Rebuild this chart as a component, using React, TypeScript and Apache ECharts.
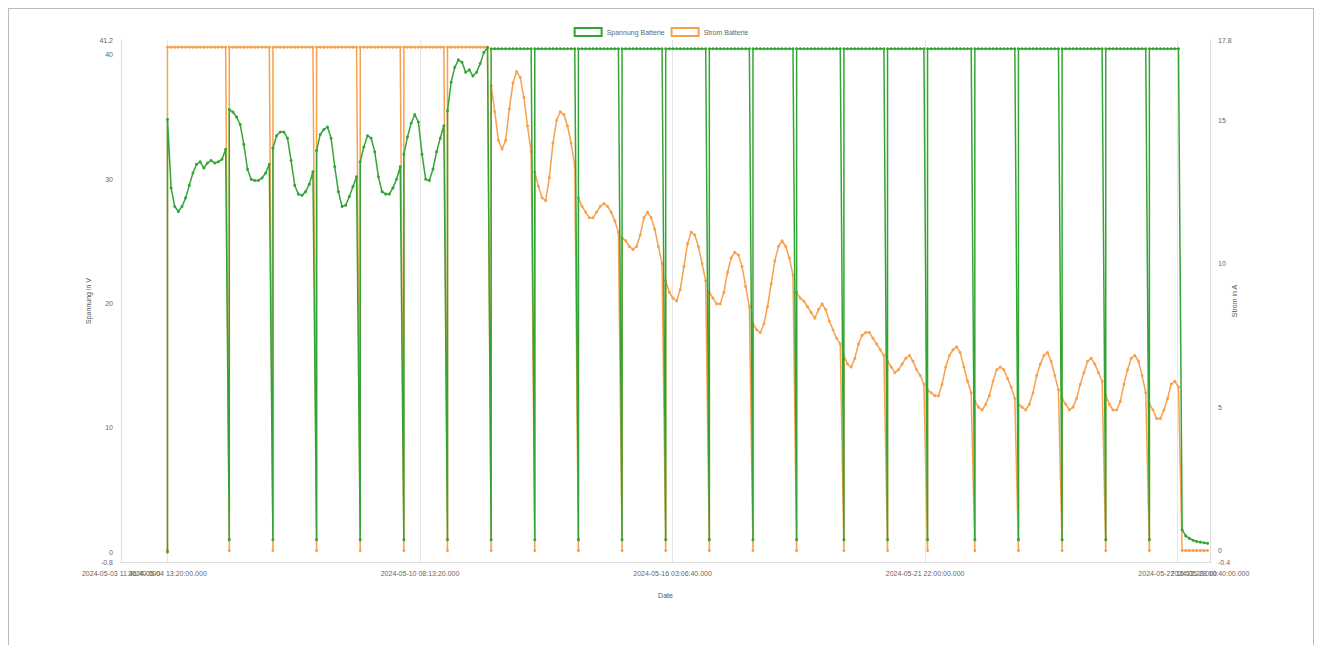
import React, { useEffect, useRef } from "react";
import * as echarts from "echarts";

// time grid of the samples (ms since epoch), 2 h apart
const startTime = 1714800000000;
const stepMs = 7200000;
const axisMinTime = 1714708000000;
const axisMaxTime = 1716864000000;
// x-axis tick / label positions (ms)
const xEdgeTicks = [1714708000000, 1716864000000];
const xInnerTicks = [1714800000000, 1715300000000, 1715800000000, 1716300000000, 1716800000000];

const seriesNames = ["Spannung Batterie", "Strom Batterie"];
const xAxisName = "Date";
const leftAxisName = "Spannung in V";
const rightAxisName = "Strom in A";

// sample indices where both signals briefly drop (daily)
const spikeIndex = [0, 17, 29, 41, 53, 65, 77, 89, 101, 113, 125, 137, 149, 161, 173, 186, 198, 209, 222, 234, 246, 258, 270];
const spikeVoltage = [0, 1, 1, 1, 1, 1, 1, 1, 1, 1, 1, 1, 1, 1, 1, 1, 1, 1, 1, 1, 1, 1, 1];
const spikeCurrent = [0, 0, 0, 0, 0, 0, 0, 0, 0, 0, 0, 0, 0, 0, 0, 0, 0, 0, 0, 0, 0, 0, 0];

// battery voltage (V), one value per sample
const voltage = [
  34.8, 29.3, 27.8, 27.4, 27.8, 28.5, 29.5, 30.5, 31.2, 31.4, 30.9, 31.3, 31.5, 31.3, 31.4, 31.6, 32.4,
  35.6, 35.4, 35.0, 34.4, 32.8, 30.8, 30.0, 29.9, 29.9, 30.1, 30.5, 31.2,
  32.5, 33.5, 33.8, 33.8, 33.3, 31.5, 29.5, 28.8, 28.7, 29.0, 29.6, 30.6,
  32.3, 33.6, 34.0, 34.2, 33.3, 31.0, 29.0, 27.8, 27.9, 28.6, 29.4, 30.2,
  31.4, 32.6, 33.5, 33.3, 32.2, 30.2, 29.0, 28.8, 28.8, 29.3, 30.0, 31.0,
  32.0, 33.4, 34.5, 35.2, 34.6, 32.0, 30.0, 29.9, 30.8, 32.2, 33.3, 34.3,
  35.5, 37.8, 39.0, 39.6, 39.4, 38.6, 38.8, 38.3, 38.6, 39.3, 40.2, 40.6,
  40.5, 40.5, 40.5, 40.5, 40.5, 40.5, 40.5, 40.5, 40.5, 40.5,
  40.5, 40.5, 40.5, 40.5, 40.5, 40.5, 40.5, 40.5, 40.5, 40.5,
  40.5, 40.5, 40.5, 40.5, 40.5, 40.5, 40.5, 40.5, 40.5, 40.5,
  40.5, 40.5, 40.5, 40.5, 40.5, 40.5, 40.5, 40.5, 40.5, 40.5,
  40.5, 40.5, 40.5, 40.5, 40.5, 40.5, 40.5, 40.5, 40.5, 40.5,
  40.5, 40.5, 40.5, 40.5, 40.5, 40.5, 40.5, 40.5, 40.5, 40.5,
  40.5, 40.5, 40.5, 40.5, 40.5, 40.5, 40.5, 40.5, 40.5, 40.5,
  40.5, 40.5, 40.5, 40.5, 40.5, 40.5, 40.5, 40.5, 40.5, 40.5,
  40.5, 40.5, 40.5, 40.5, 40.5, 40.5, 40.5, 40.5, 40.5, 40.5,
  40.5, 40.5, 40.5, 40.5, 40.5, 40.5, 40.5, 40.5, 40.5, 40.5,
  40.5, 40.5, 40.5, 40.5, 40.5, 40.5, 40.5, 40.5, 40.5, 40.5,
  40.5, 40.5, 40.5, 40.5, 40.5, 40.5, 40.5, 40.5, 40.5, 40.5,
  40.5, 40.5, 40.5, 40.5, 40.5, 40.5, 40.5, 40.5, 40.5, 40.5,
  40.5, 40.5, 40.5, 40.5, 40.5, 40.5, 40.5, 40.5, 40.5, 40.5,
  40.5, 40.5, 40.5, 40.5, 40.5, 40.5, 40.5, 40.5, 40.5, 40.5,
  40.5, 40.5, 40.5, 40.5, 40.5, 40.5, 40.5, 40.5, 40.5, 40.5,
  40.5, 40.5, 40.5, 40.5, 40.5, 40.5, 40.5, 40.5, 40.5, 40.5,
  40.5, 40.5, 40.5, 40.5, 40.5, 40.5, 40.5, 40.5, 40.5, 40.5,
  40.5, 40.5, 40.5, 40.5, 40.5, 40.5, 40.5, 40.5, 40.5, 40.5,
  1.8, 1.3, 1.1, 0.95, 0.85, 0.8, 0.75, 0.7,
];

// battery current (A), one value per sample
const current = [
  17.55, 17.55, 17.55, 17.55, 17.55, 17.55, 17.55, 17.55, 17.55, 17.55,
  17.55, 17.55, 17.55, 17.55, 17.55, 17.55, 17.55, 17.55, 17.55, 17.55,
  17.55, 17.55, 17.55, 17.55, 17.55, 17.55, 17.55, 17.55, 17.55, 17.55,
  17.55, 17.55, 17.55, 17.55, 17.55, 17.55, 17.55, 17.55, 17.55, 17.55,
  17.55, 17.55, 17.55, 17.55, 17.55, 17.55, 17.55, 17.55, 17.55, 17.55,
  17.55, 17.55, 17.55, 17.55, 17.55, 17.55, 17.55, 17.55, 17.55, 17.55,
  17.55, 17.55, 17.55, 17.55, 17.55, 17.55, 17.55, 17.55, 17.55, 17.55,
  17.55, 17.55, 17.55, 17.55, 17.55, 17.55, 17.55, 17.55, 17.55, 17.55,
  17.55, 17.55, 17.55, 17.55, 17.55, 17.55, 17.55, 17.55, 17.55,
  16.2, 15.3, 14.3, 14.0, 14.3, 15.4, 16.3, 16.7, 16.5, 15.8, 14.8, 13.9,
  13.2, 12.7, 12.3, 12.2, 13.0, 14.2, 15.0, 15.3, 15.2, 14.8, 14.2, 13.4,
  12.3, 12.0, 11.8, 11.6, 11.6, 11.8, 12.0, 12.1, 12.0, 11.8, 11.5, 11.1,
  10.9, 10.8, 10.6, 10.5, 10.6, 11.0, 11.6, 11.8, 11.6, 11.2, 10.6, 10.0,
  9.4, 9.0, 8.8, 8.7, 9.1, 9.9, 10.7, 11.1, 11.0, 10.6, 10.0, 9.4,
  9.0, 8.8, 8.6, 8.6, 9.0, 9.7, 10.2, 10.4, 10.3, 9.9, 9.2, 8.5,
  7.9, 7.7, 7.6, 7.9, 8.5, 9.3, 10.1, 10.6, 10.8, 10.6, 10.2, 9.6,
  9.0, 8.8, 8.7, 8.5, 8.3, 8.1, 8.4, 8.6, 8.4, 8.0, 7.7, 7.4, 7.2,
  6.8, 6.5, 6.4, 6.7, 7.2, 7.5, 7.6, 7.6, 7.4, 7.2, 7.0, 6.8,
  6.6, 6.4, 6.2, 6.3, 6.5, 6.7, 6.8, 6.6, 6.3, 6.1, 5.8,
  5.6, 5.5, 5.4, 5.4, 5.8, 6.4, 6.8, 7.0, 7.1, 6.9, 6.4, 5.9, 5.5,
  5.2, 5.0, 4.9, 5.1, 5.4, 5.9, 6.3, 6.4, 6.3, 6.0, 5.7, 5.3,
  5.1, 5.0, 4.9, 5.1, 5.5, 6.1, 6.5, 6.8, 6.9, 6.6, 6.1, 5.6,
  5.3, 5.1, 4.9, 5.0, 5.3, 5.8, 6.2, 6.6, 6.7, 6.5, 6.2, 5.9,
  5.4, 5.1, 4.9, 4.9, 5.2, 5.8, 6.3, 6.7, 6.8, 6.6, 6.1, 5.5,
  5.1, 4.9, 4.6, 4.6, 4.9, 5.3, 5.8, 5.9, 5.7,
  0, 0, 0, 0, 0, 0, 0, 0,
];

const GREEN = "#34a534";
const ORANGE = "#f8a04c";

function buildData(values: number[], lows: number[]): [number, number][] {
  const out: [number, number][] = [];
  values.forEach((v, i) => {
    const t = startTime + i * stepMs;
    const s = spikeIndex.indexOf(i);
    if (s >= 0) out.push([t, lows[s]]);
    out.push([t, v]);
  });
  return out;
}

function pad(n: number, w = 2) {
  return String(n).padStart(w, "0");
}

function fmtTime(v: number) {
  const d = new Date(v + 8 * 3600000);
  return (
    d.getUTCFullYear() + "-" + pad(d.getUTCMonth() + 1) + "-" + pad(d.getUTCDate()) + " " +
    pad(d.getUTCHours()) + ":" + pad(d.getUTCMinutes()) + ":" + pad(d.getUTCSeconds()) + "." +
    pad(d.getUTCMilliseconds(), 3)
  );
}

export default function App() {
  const ref = useRef<HTMLDivElement>(null);
  useEffect(() => {
    if (!ref.current) return;
    const chart = echarts.init(ref.current, undefined, { renderer: "svg" });
    const labelStyle = { color: "#666", fontSize: 7, fontFamily: "Liberation Sans, Arial, sans-serif" };
    const xBase = {
      type: "value",
      min: axisMinTime,
      max: axisMaxTime,
      position: "bottom",
      axisLine: { show: true, onZero: false, lineStyle: { color: "#ddd" } },
    };
    chart.setOption({
      animation: false,
      textStyle: { fontFamily: "Liberation Sans, Arial, sans-serif" },
      legend: {
        top: 13,
        left: "center",
        icon: "rect",
        itemWidth: 27,
        itemHeight: 8,
        itemGap: 6,
        textStyle: { color: "#666", fontSize: 7 },
        data: [
          { name: seriesNames[0], itemStyle: { color: "#fff", borderColor: GREEN, borderWidth: 2 } },
          { name: seriesNames[1], itemStyle: { color: "#fff", borderColor: ORANGE, borderWidth: 2 } },
        ],
      },
      grid: { left: 112, right: 103, top: 31, bottom: 83, containLabel: false },
      xAxis: [
        {
          ...xBase,
          name: xAxisName,
          nameLocation: "middle",
          nameGap: 30,
          nameMoveOverlap: false,
          nameTextStyle: { color: "#555", fontSize: 7 },
          axisTick: { show: false, customValues: xEdgeTicks },
          axisLabel: {
            ...labelStyle,
            customValues: xEdgeTicks,
            showMinLabel: true,
            showMaxLabel: true,
            hideOverlap: false,
            formatter: (v: number) => fmtTime(v),
          },
          splitLine: { show: false },
        },
        {
          ...xBase,
          axisTick: { show: false, customValues: xInnerTicks },
          axisLabel: {
            ...labelStyle,
            customValues: xInnerTicks,
            showMinLabel: true,
            showMaxLabel: true,
            hideOverlap: false,
            formatter: (v: number) => fmtTime(v),
          },
          splitLine: { show: true, lineStyle: { color: "#e6e6e6" } },
        },
      ],
      yAxis: [
        {
          type: "value",
          min: -0.8,
          max: 41.2,
          splitNumber: 4,
          name: leftAxisName,
          nameLocation: "middle",
          nameGap: 29,
          nameMoveOverlap: false,
          nameTextStyle: { color: "#555", fontSize: 7 },
          axisLine: { show: true, onZero: false, lineStyle: { color: "#ddd" } },
          axisTick: { show: false },
          axisLabel: { ...labelStyle, showMinLabel: true, showMaxLabel: true },
          splitLine: { show: false },
        },
        {
          type: "value",
          min: -0.4,
          max: 17.8,
          splitNumber: 4,
          position: "right",
          name: rightAxisName,
          nameLocation: "middle",
          nameGap: 21,
          nameMoveOverlap: false,
          nameTextStyle: { color: "#555", fontSize: 7 },
          axisLine: { show: true, onZero: false, lineStyle: { color: "#ddd" } },
          axisTick: { show: false },
          axisLabel: { ...labelStyle, showMinLabel: true, showMaxLabel: true },
          splitLine: { show: false },
        },
      ],
      series: [
        {
          name: seriesNames[1],
          type: "line",
          xAxisIndex: 0,
          yAxisIndex: 1,
          data: buildData(current, spikeCurrent),
          symbol: "circle",
          symbolSize: 3,
          showSymbol: true,
          lineStyle: { color: ORANGE, width: 1.5 },
          itemStyle: { color: ORANGE },
          z: 2,
        },
        {
          name: seriesNames[0],
          type: "line",
          xAxisIndex: 0,
          yAxisIndex: 0,
          data: buildData(voltage, spikeVoltage),
          symbol: "circle",
          symbolSize: 3,
          showSymbol: true,
          lineStyle: { color: GREEN, width: 1.5 },
          itemStyle: { color: GREEN },
          z: 3,
        },
      ],
    });
    return () => chart.dispose();
  }, []);
  return (
    <div
      style={{
        width: 1304,
        height: 636,
        borderTop: "1px solid #bbb",
        borderLeft: "1px solid #bbb",
        borderRight: "1px solid #bbb",
        background: "#fff",
      }}
    >
      <div ref={ref} style={{ width: 1304, height: 636 }} />
    </div>
  );
}
